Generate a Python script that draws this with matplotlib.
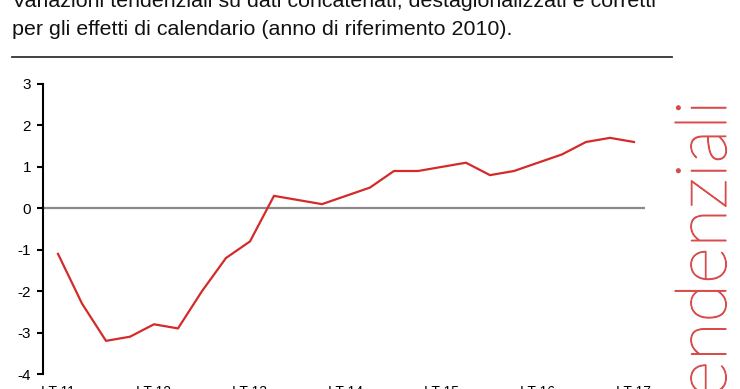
import matplotlib
matplotlib.use("Agg")
import matplotlib.pyplot as plt
import matplotlib.transforms as mtransforms
import matplotlib.patheffects as pe
from matplotlib.lines import Line2D

# variazioni tendenziali trimestrali, I T 2011 - I T 2017
quarters = ["I T 11", "II T 11", "III T 11", "IV T 11",
            "I T 12", "II T 12", "III T 12", "IV T 12",
            "I T 13", "II T 13", "III T 13", "IV T 13",
            "I T 14", "II T 14", "III T 14", "IV T 14",
            "I T 15", "II T 15", "III T 15", "IV T 15",
            "I T 16", "II T 16", "III T 16", "IV T 16",
            "I T 17"]
values = [-1.1, -2.3, -3.2, -3.1,
          -2.8, -2.9, -2.0, -1.2,
          -0.8, 0.3, 0.2, 0.1,
          0.3, 0.5, 0.9, 0.9,
          1.0, 1.1, 0.8, 0.9,
          1.1, 1.3, 1.6, 1.7,
          1.6]
yticks = [3, 2, 1, 0, -1, -2, -3, -4]

W, H = 740, 389
fig = plt.figure(figsize=(W / 100, H / 100), dpi=100)
fig.patch.set_facecolor("white")

# titolo (prima riga tagliata in alto)
title_font = ["Liberation Sans", "DejaVu Sans"]
fig.text(12 / W, 1 - 7 / H,
         "Variazioni tendenziali su dati concatenati, destagionalizzati e corretti",
         family=title_font, fontsize=15.4, color="#111111", va="baseline")
fig.text(12 / W, 1 - 35 / H,
         "per gli effetti di calendario (anno di riferimento 2010).",
         family=title_font, fontsize=15.4, color="#111111", va="baseline")
fig.add_artist(Line2D([12 / W, 672 / W], [1 - 57 / H, 1 - 57 / H],
                      transform=fig.transFigure, color="#333333", lw=1.3))

# scritta verticale a destra
red_txt = "#d84c4c"
fig.text(726 / W, 1 - 100 / H, "tendenziali", rotation=90, rotation_mode="anchor",
         ha="right", va="baseline", family=["Lato", "DejaVu Sans"],
         fontweight="light", fontsize=51, color=red_txt,
         path_effects=[pe.withStroke(linewidth=0.8, foreground=red_txt)])

ax = fig.add_axes([43 / W, 15 / H, (645 - 43) / W, (374 - 84) / H])
x = list(range(len(values)))
ax.plot(x, values, color="#d42a2a", lw=1.6)
ax.axhline(0, color="#8a8a8a", lw=1.6, zorder=0)

ax.set_ylim(-4, 3)
ax.set_xlim(-0.625, 24.46)
ax.set_yticks(yticks)
ax.set_yticklabels([str(v) for v in yticks], family="Liberation Sans", fontsize=11)
ax.set_xticks(x[::4])
ax.set_xticklabels(quarters[::4], family="Liberation Sans", fontsize=10)
shift = mtransforms.ScaledTranslation(-7 / 100, 0, fig.dpi_scale_trans)
for lab in ax.get_xticklabels():
    lab.set_transform(lab.get_transform() + shift)

for s in ["top", "right", "bottom"]:
    ax.spines[s].set_visible(False)
ax.spines["left"].set_linewidth(1.5)
ax.tick_params(axis="y", direction="out", length=4, width=1.5, pad=4.5)
ax.tick_params(axis="x", length=0, pad=8)

fig.savefig("out.png", dpi=100)
